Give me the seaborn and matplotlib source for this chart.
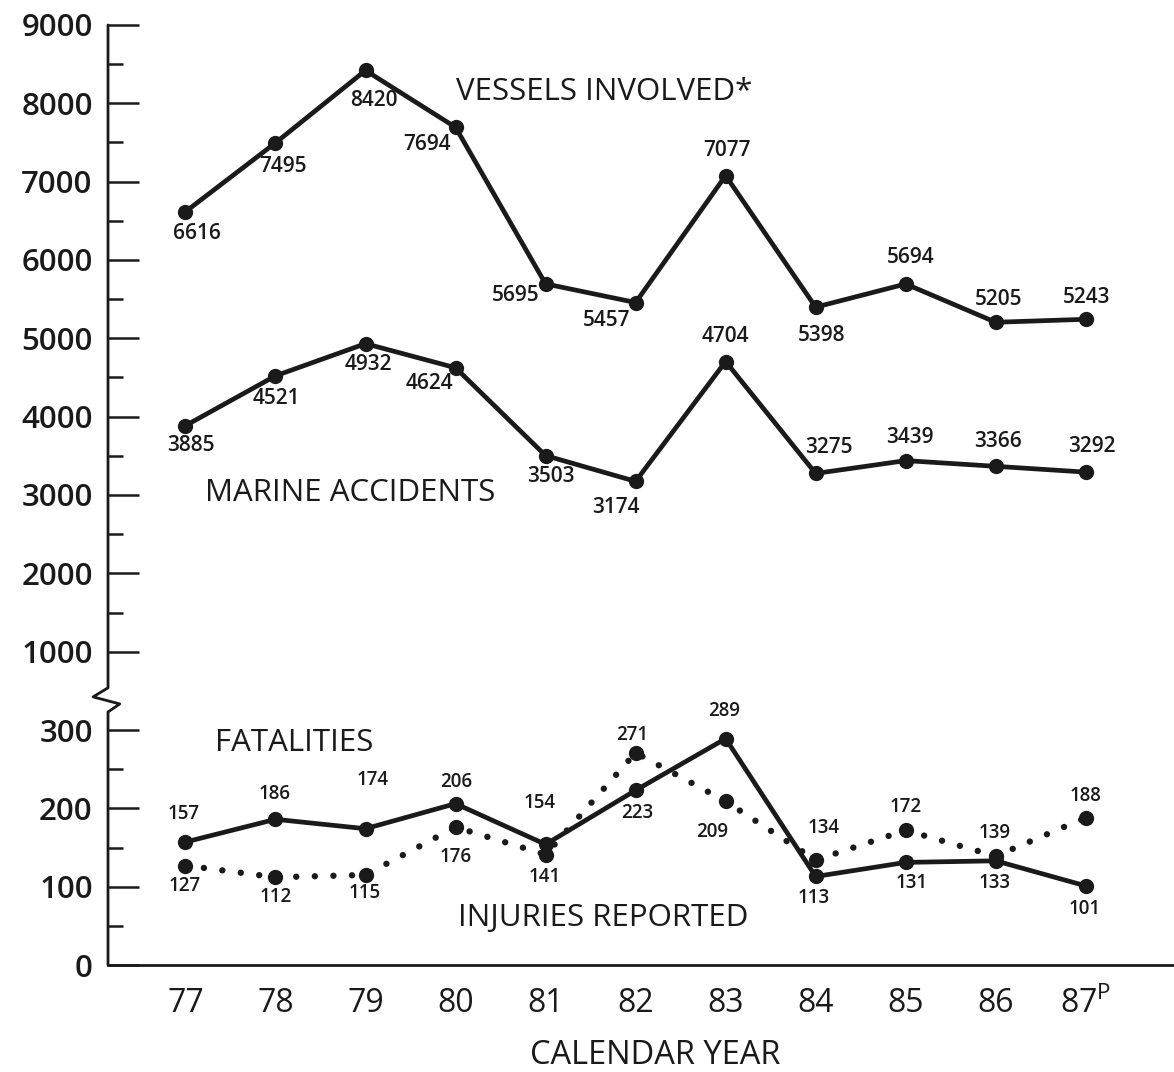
import matplotlib.pyplot as plt
import matplotlib.transforms as mtransforms
import numpy as np
import seaborn as sns

# calendar years and values
years = [77, 78, 79, 80, 81, 82, 83, 84, 85, 86, 87]
year_labels = ["77", "78", "79", "80", "81", "82", "83", "84", "85", "86", r"87$^{\rm P}$"]
vessels = [6616, 7495, 8420, 7694, 5695, 5457, 7077, 5398, 5694, 5205, 5243]
accidents = [3885, 4521, 4932, 4624, 3503, 3174, 4704, 3275, 3439, 3366, 3292]
fatalities = [157, 186, 174, 206, 154, 223, 289, 113, 131, 133, 101]
injuries = [127, 112, 115, 176, 141, 271, 209, 134, 172, 139, 188]

y_major = [0, 100, 200, 300, 1000, 2000, 3000, 4000, 5000, 6000, 7000, 8000, 9000]
y_minor = [50, 150, 250, 1500, 2500, 3500, 4500, 5500, 6500, 7500, 8500]

# where each value label sits relative to its point (pixels)
vessel_off = [(12, -22), (8, -24), (8, -30), (-28, -17), (-30, -12), (-29, -18),
              (1, 25), (6, -28), (5, 26), (3, 23), (1, 22)]
accident_off = [(5, -20), (1, -23), (3, -21), (-26, -16), (5, -21), (-20, -26),
                (0, 25), (13, 26), (4, 23), (2, 25), (6, 26)]
fatal_off = [(-2, 28), (-1, 25), (7, 49), (1, 22), (-6, 41), (2, -23),
             (-2, 28), (-2, -22), (6, -21), (-1, -22), (-1, -23)]
injury_off = [(-1, -20), (0, -20), (-1, -18), (0, -30), (-1, -22), (-3, 18),
              (-13, -31), (8, 32), (0, 23), (-1, 23), (0, 22)]

ink = "#1a1a1a"


def fwd(v):
    v = np.asarray(v, dtype=float)
    return np.where(v <= 300, v / 100,
                    np.where(v < 1000, 3 + (v - 300) / 700, 3 + v / 1000))


def inv(u):
    u = np.asarray(u, dtype=float)
    return np.where(u <= 3, u * 100,
                    np.where(u < 4, 300 + (u - 3) * 700, (u - 3) * 1000))


sns.set_style("ticks")
plt.rcParams["font.family"] = ["Open Sans", "DejaVu Sans"]
plt.rcParams["mathtext.fontset"] = "custom"
plt.rcParams["mathtext.rm"] = "Open Sans"
plt.rcParams["text.color"] = ink

fig = plt.figure(figsize=(11.74, 10.72), dpi=100)
ax = fig.add_axes([0.092, 0.0998, 0.908, 0.8769])
ax.set_yscale("function", functions=(fwd, inv))

for vals in (vessels, accidents, fatalities):
    sns.lineplot(x=years, y=vals, ax=ax, color=ink, linewidth=3.4,
                 marker="o", markersize=11, markeredgewidth=0)
sns.lineplot(x=years, y=injuries, ax=ax, color=ink, linewidth=4.6,
             linestyle=(0, (0.01, 2.9)), dash_capstyle="round",
             marker="o", markersize=11, markeredgewidth=0)

for vals, offs, fs in ((vessels, vessel_off, 15), (accidents, accident_off, 15),
                       (fatalities, fatal_off, 13.5), (injuries, injury_off, 13.5)):
    for yr, v, off in zip(years, vals, offs):
        ax.annotate(str(v), (yr, v), xytext=off, textcoords="offset pixels",
                    ha="center", va="center", fontsize=fs, color=ink,
                    fontweight="semibold")

name_kw = dict(fontsize=22.5, ha="left", va="center", fontweight="medium")
ax.text(80.0, 8150, "VESSELS INVOLVED*", **name_kw)
ax.text(77.22, 3030, "MARINE ACCIDENTS", **name_kw)
ax.text(77.33, 283, "FATALITIES", **name_kw)
ax.text(80.03, 60, "INJURIES REPORTED", **name_kw)
fig.text(655 / 1174, 1 - 1055 / 1072, "CALENDAR YEAR", fontsize=23.5,
         ha="center", va="center", fontweight="medium")

ax.set_xlim(76.14, 87.98)
ax.set_ylim(0, 9000)
ax.set_xticks(years, year_labels)
ax.set_yticks(y_major, [str(t) for t in y_major])
ax.set_yticks(y_minor, minor=True)
ax.tick_params(axis="x", length=0, pad=16, labelsize=23, colors=ink)
ax.tick_params(axis="y", which="major", direction="in", length=22, width=1.8,
               labelsize=22.5, pad=11, colors=ink)
ax.tick_params(axis="y", which="minor", direction="in", length=11, width=1.8,
               colors=ink)
for lbl in ax.get_yticklabels():
    lbl.set_fontweight("semibold")
for lbl in ax.get_xticklabels():
    lbl.set_fontweight("medium")

for side in ("top", "right", "left"):
    ax.spines[side].set_visible(False)
ax.spines["bottom"].set_linewidth(2)
ax.spines["bottom"].set_color(ink)

# left axis drawn by hand so it can carry the break mark
trans = mtransforms.blended_transform_factory(ax.transAxes, ax.transData)
ax.plot([0, 0, -0.014, 0.011, 0, 0], [9000, 677, 596, 533, 461, 0],
        transform=trans, clip_on=False, color=ink, linewidth=2)

fig.savefig("out.png", dpi=100)
